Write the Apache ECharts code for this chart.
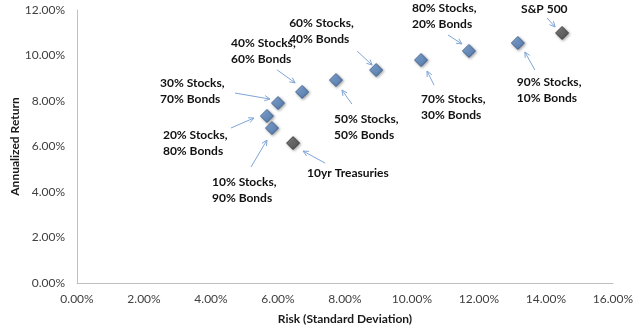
<!DOCTYPE html>
<html>
<head>
<meta charset="utf-8">
<script src="https://cdn.jsdelivr.net/npm/echarts@6/dist/echarts.min.js"></script>
<style>
  html, body { margin: 0; padding: 0; background: #fff; }
  #chart { width: 640px; height: 330px; }
</style>
</head>
<body>
<div id="chart"></div>
<script>
// Stock/bond mixes: risk (std. dev.) vs annualized return, in percent
const portfolioNames = [
  '10% Stocks,\n90% Bonds', '20% Stocks,\n80% Bonds', '30% Stocks,\n70% Bonds',
  '40% Stocks,\n60% Bonds', '50% Stocks,\n50% Bonds', '60% Stocks,\n40% Bonds',
  '70% Stocks,\n30% Bonds', '80% Stocks,\n20% Bonds', '90% Stocks,\n10% Bonds'
];
const portfolioRisk   = [5.82, 5.67, 6.00, 6.72, 7.73, 8.93, 10.27, 11.70, 13.16];
const portfolioReturn = [6.81, 7.34, 7.91, 8.40, 8.92, 9.36, 9.80, 10.20, 10.55];

// Pure asset classes
const benchmarkNames  = ['10yr Treasuries', 'S&P 500'];
const benchmarkRisk   = [6.45, 14.48];
const benchmarkReturn = [6.15, 10.99];

// Axis ticks (percent)
const xTicks = [0, 2, 4, 6, 8, 10, 12, 14, 16];
const yTicks = [0, 2, 4, 6, 8, 10, 12];

// Callout placement relative to each marker, in pixels:
// [label dx, label dy, arrow tail dx, tail dy, arrow head dx, head dy]
const portfolioCallouts = [
  [-60, 54, -21, 39, -5, 12],
  [-104, 19, -36, 12, -13, 2],
  [-118, -20, -43, -10, -8, -4],
  [-71, -49, -25, -22, -7, -9],
  [-2, 39, 16, 24, 6, 10],
  [-87, -47, -19, -19, -4, -5],
  [0, 39, 13, 25, 6, 11],
  [-57, -43, -21, -16, -7, -7],
  [-1, 39, 17, 27, 7, 9]
];
const benchmarkCallouts = [
  [14, 30, 32, 20, 10, 8],
  [-41, -24, -15, -15, -7, -6]
];

const FONT = 'Lato, "Open Sans", sans-serif';
const pct = v => v.toFixed(2) + '%';

const chart = echarts.init(document.getElementById('chart'), null, { renderer: 'canvas' });

const blueFill = new echarts.graphic.LinearGradient(0, 0, 1, 1, [
  { offset: 0, color: '#7BA7DE' },
  { offset: 1, color: '#3A6AAB' }
]);
const grayFill = new echarts.graphic.LinearGradient(0, 0, 1, 1, [
  { offset: 0, color: '#707070' },
  { offset: 1, color: '#3A3A3A' }
]);

chart.setOption({
  animation: false,
  backgroundColor: '#ffffff',
  grid: { left: 77, right: 27, top: 10, bottom: 47, outerBoundsMode: 'none', containLabel: false },
  xAxis: {
    type: 'value',
    min: xTicks[0], max: xTicks[xTicks.length - 1], interval: 2,
    name: 'Risk (Standard Deviation)',
    nameLocation: 'middle', nameGap: 30, nameMoveOverlap: false,
    nameTextStyle: { fontFamily: FONT, fontWeight: 'bold', fontSize: 12, color: '#1a1a1a' },
    axisLine: { show: true, lineStyle: { color: '#BFBFBF', width: 1 } },
    axisTick: { show: false },
    splitLine: { show: false },
    axisLabel: { formatter: pct, margin: 10, fontFamily: FONT, fontSize: 12, color: '#404040' }
  },
  yAxis: {
    type: 'value',
    min: yTicks[0], max: yTicks[yTicks.length - 1], interval: 2,
    name: 'Annualized Return',
    nameLocation: 'middle', nameGap: 56, nameMoveOverlap: false,
    nameTextStyle: { fontFamily: FONT, fontWeight: 'bold', fontSize: 12, color: '#1a1a1a' },
    axisLine: { show: true, lineStyle: { color: '#BFBFBF', width: 1 } },
    axisTick: { show: false },
    splitLine: { show: false },
    axisLabel: { formatter: pct, margin: 12, fontFamily: FONT, fontSize: 12, color: '#404040' }
  },
  series: [
    {
      name: 'Portfolios',
      type: 'scatter',
      symbol: 'diamond',
      symbolSize: 13,
      itemStyle: {
        color: blueFill, borderColor: '#2F5583', borderWidth: 1,
        shadowColor: 'rgba(0,0,0,0.45)', shadowBlur: 3, shadowOffsetX: 1, shadowOffsetY: 1
      },
      data: portfolioRisk.map((r, i) => ({ name: portfolioNames[i], value: [r, portfolioReturn[i]] }))
    },
    {
      name: 'Benchmarks',
      type: 'scatter',
      symbol: 'diamond',
      symbolSize: 13,
      itemStyle: {
        color: grayFill, borderColor: '#2A2A2A', borderWidth: 1,
        shadowColor: 'rgba(0,0,0,0.45)', shadowBlur: 3, shadowOffsetX: 1, shadowOffsetY: 1
      },
      data: benchmarkRisk.map((r, i) => ({ name: benchmarkNames[i], value: [r, benchmarkReturn[i]] }))
    }
  ]
});

// Callout text and arrows, anchored to each marker's pixel position
function callouts(names, xs, ys, layout) {
  const out = [];
  names.forEach((name, i) => {
    const p = chart.convertToPixel({ gridIndex: 0 }, [xs[i], ys[i]]);
    const [lx, ly, tx, ty, hx, hy] = layout[i];
    out.push({
      type: 'text',
      x: p[0] + lx, y: p[1] + ly - 8,
      style: {
        text: name, fill: '#111', fontFamily: FONT, fontWeight: 'bold',
        fontSize: 12, lineHeight: 16, align: 'left', verticalAlign: 'top'
      },
      z: 10
    });
    const x1 = p[0] + tx, y1 = p[1] + ty, x2 = p[0] + hx, y2 = p[1] + hy;
    const ang = Math.atan2(y2 - y1, x2 - x1);
    const L = 6, W = 0.45;
    out.push({
      type: 'line',
      shape: { x1, y1, x2, y2 },
      style: { stroke: '#7FA6D6', lineWidth: 1 },
      z: 10
    });
    out.push({
      type: 'polyline',
      shape: { points: [
        [x2 - L * Math.cos(ang - W), y2 - L * Math.sin(ang - W)],
        [x2, y2],
        [x2 - L * Math.cos(ang + W), y2 - L * Math.sin(ang + W)]
      ] },
      style: { stroke: '#7FA6D6', lineWidth: 1, fill: null },
      z: 10
    });
  });
  return out;
}

chart.setOption({
  graphic: [
    ...callouts(portfolioNames, portfolioRisk, portfolioReturn, portfolioCallouts),
    ...callouts(benchmarkNames, benchmarkRisk, benchmarkReturn, benchmarkCallouts)
  ]
});
</script>
</body>
</html>
